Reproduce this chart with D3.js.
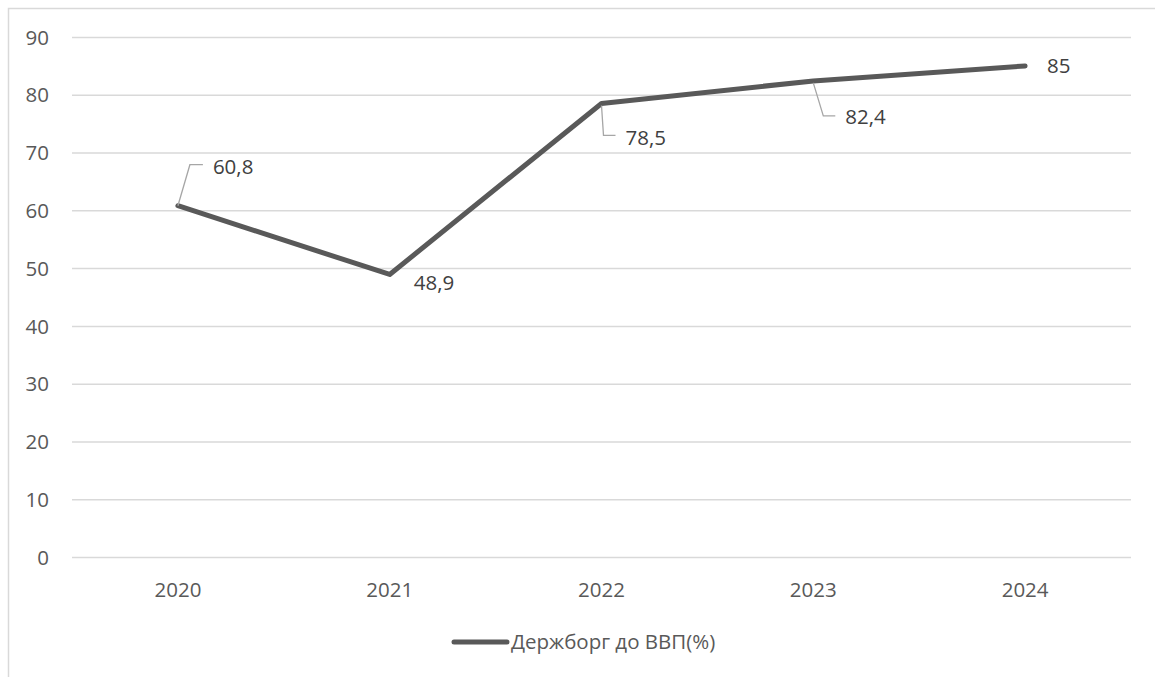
<html>
<head>
<script src="https://d3js.org/d3.v7.min.js"></script>
<style>
  body { margin: 0; background: #fff; }
  text { font-family: "Open Sans", sans-serif; }
  .grid line { stroke: #d9d9d9; stroke-width: 1.5; }
  .grid .domain { stroke: none; }
  .axis .domain { stroke: none; }
  .axis line { stroke: none; }
  .axis text { fill: #595959; font-size: 20.5px; }
</style>
</head>
<body>
<svg id="chart" width="1155" height="677"></svg>
<script>
const years = ["2020", "2021", "2022", "2023", "2024"];
const debt = [60.8, 48.9, 78.5, 82.4, 85];
const yTicks = [0, 10, 20, 30, 40, 50, 60, 70, 80, 90];
const seriesName = "Держборг до ВВП(%)";

const svg = d3.select("svg#chart");
const margin = {"top": 37, "left": 72, "right": 24, "bottom": 120};
const width = 1155, height = 677;

// frame
svg.append("path")
  .attr("d", "M8.5," + height + " V8.5 H" + width)
  .attr("fill", "none").attr("stroke", "#d9d9d9").attr("stroke-width", 1.5);

const x = d3.scaleBand().domain(years).range([margin.left, width - margin.right]).padding(0);
const y = d3.scaleLinear().domain([0, 90]).range([height - margin.bottom, margin.top]);

svg.append("g").attr("class", "grid")
  .attr("transform", "translate(" + margin.left + ",0)")
  .call(d3.axisLeft(y).tickValues(yTicks).tickSize(-(width - margin.right - margin.left)).tickFormat(""));

svg.append("g").attr("class", "axis")
  .attr("transform", "translate(49,0)")
  .call(d3.axisLeft(y).tickValues(yTicks).tickSize(0).tickPadding(0))
  .selectAll("text").attr("dy", "0.35em");

svg.append("g").attr("class", "axis")
  .attr("transform", "translate(0," + (height - margin.bottom) + ")")
  .call(d3.axisBottom(x).tickSize(0).tickPadding(25));

const pts = years.map((yr, i) => ({"year": yr, "v": debt[i]}));
const cx = d => x(d.year) + x.bandwidth() / 2;

svg.append("path").datum(pts)
  .attr("fill", "none").attr("stroke", "#595959").attr("stroke-width", 5)
  .attr("stroke-linecap", "round").attr("stroke-linejoin", "round")
  .attr("d", d3.line().x(cx).y(d => y(d.v)));

// data labels: offsets relative to the point, with optional leader line
const labelOffsets = [
  {"dx": 35, "dy": -39, "leader": [[0, 0], [12, -41], [25, -41]]},
  {"dx": 24, "dy": 8, "leader": null},
  {"dx": 24, "dy": 34, "leader": [[0, 2], [2, 32], [14, 32]]},
  {"dx": 32, "dy": 36, "leader": [[0, 2], [10, 35], [22, 35]]},
  {"dx": 22, "dy": 0, "leader": null}
];

pts.forEach((d, i) => {
  const o = labelOffsets[i];
  const px = cx(d), py = y(d.v);
  if (o.leader) {
    svg.append("path")
      .attr("d", d3.line()(o.leader.map(p => [px + p[0], py + p[1]])))
      .attr("fill", "none").attr("stroke", "#a6a6a6").attr("stroke-width", 1.3);
  }
  svg.append("text")
    .attr("x", px + o.dx).attr("y", py + o.dy)
    .attr("dy", "0.35em")
    .attr("fill", "#404040").attr("font-size", "20.5px")
    .text(String(d.v).replace(".", ","));
});

// legend
svg.append("line")
  .attr("x1", 454).attr("x2", 507).attr("y1", 642).attr("y2", 642)
  .attr("stroke", "#595959").attr("stroke-width", 5).attr("stroke-linecap", "round");
svg.append("text")
  .attr("x", 511).attr("y", 642).attr("dy", "0.35em")
  .attr("fill", "#595959").attr("font-size", "20.5px")
  .text(seriesName);
</script>
</body>
</html>
